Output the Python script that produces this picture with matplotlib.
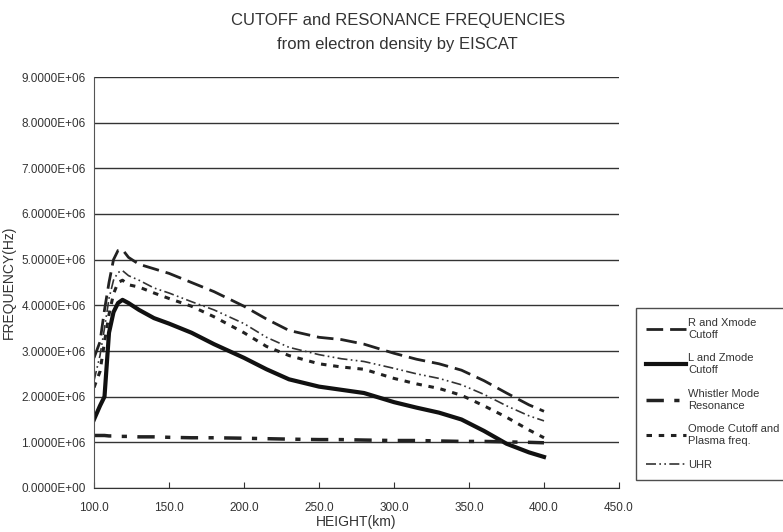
import numpy as np
import matplotlib.pyplot as plt
from matplotlib.ticker import FuncFormatter

plt.rcParams['font.family'] = ['Liberation Sans', 'DejaVu Sans']

# height (km)
height = [100, 104, 107, 110, 113, 116, 119, 123, 130, 140, 150, 165, 180, 200,
          215, 230, 250, 265, 280, 300, 315, 330, 345, 360, 375, 390, 400]

# frequencies (MHz -> Hz below)
r_xmode = [2.85, 3.2, 3.9, 4.5, 5.0, 5.2, 5.22, 5.05, 4.9, 4.8, 4.7, 4.5, 4.3, 3.98,
           3.7, 3.45, 3.3, 3.25, 3.15, 2.95, 2.82, 2.72, 2.58, 2.35, 2.08, 1.82, 1.68]
l_zmode = [1.5, 1.8, 2.0, 3.4, 3.85, 4.05, 4.12, 4.05, 3.9, 3.72, 3.6, 3.4, 3.15, 2.85,
           2.6, 2.38, 2.22, 2.15, 2.08, 1.88, 1.76, 1.65, 1.5, 1.25, 0.97, 0.78, 0.68]
whistler = [1.15, 1.15, 1.15, 1.14, 1.14, 1.13, 1.13, 1.13, 1.12, 1.12, 1.11, 1.1, 1.1, 1.09,
            1.08, 1.07, 1.06, 1.06, 1.05, 1.04, 1.04, 1.03, 1.02, 1.02, 1.01, 1.0, 0.99]
omode = [2.2, 2.55, 3.2, 3.8, 4.25, 4.5, 4.55, 4.45, 4.4, 4.27, 4.15, 3.98, 3.75, 3.4,
         3.1, 2.9, 2.72, 2.65, 2.6, 2.4, 2.28, 2.18, 2.03, 1.8, 1.55, 1.27, 1.1]
uhr = [2.35, 2.9, 3.5, 4.15, 4.55, 4.72, 4.76, 4.65, 4.55, 4.38, 4.27, 4.08, 3.9, 3.6,
       3.3, 3.08, 2.92, 2.83, 2.77, 2.62, 2.5, 2.4, 2.26, 2.05, 1.8, 1.58, 1.47]

labels = ['R and Xmode\nCutoff', 'L and Zmode\nCutoff', 'Whistler Mode\nResonance',
          'Omode Cutoff and\nPlasma freq.', 'UHR']

fig = plt.figure(figsize=(7.83, 5.32), dpi=100)
ax = fig.add_axes([94/783, 1-488/532, (619-94)/783, (488-77)/532])

h = np.array(height)
ax.plot(h, np.array(r_xmode)*1e6, color='#222222', lw=2, dashes=(6, 2.5), label=labels[0])
ax.plot(h, np.array(l_zmode)*1e6, color='#111111', lw=3, label=labels[1])
ax.plot(h, np.array(whistler)*1e6, color='#222222', lw=2.5, dashes=(5, 3, 1.5, 3), label=labels[2])
ax.plot(h, np.array(omode)*1e6, color='#222222', lw=2.2, dashes=(1.8, 2.2), label=labels[3])
ax.plot(h, np.array(uhr)*1e6, color='#333333', lw=1.2, dashes=(6, 2, 1, 2, 1, 2), label=labels[4])

ax.set_xlim(100, 450)
ax.set_ylim(0, 9e6)
ax.set_xticks(np.arange(100, 451, 50))
ax.set_yticks(np.arange(0, 9.1e6, 1e6))
ax.xaxis.set_major_formatter(FuncFormatter(lambda v, p: f'{v:.1f}'))
ax.yaxis.set_major_formatter(FuncFormatter(lambda v, p: f'{v:.4E}'))
ax.grid(axis='y', color='#333333', lw=1)
ax.set_axisbelow(True)
for s in ['top', 'right']:
    ax.spines[s].set_visible(False)
ax.spines['left'].set_color('#555555')
ax.spines['bottom'].set_color('#333333')
ax.tick_params(axis='x', direction='in', length=4, labelsize=8.5, colors='#333333', pad=10)
ax.tick_params(axis='y', length=0, labelsize=8.5, colors='#333333', pad=6)

ax.set_xlabel('HEIGHT(km)', fontsize=10, color='#333333', labelpad=1)
ax.set_ylabel('FREQUENCY(Hz)', fontsize=10, color='#333333', labelpad=4)

fig.text(0.508, 1-20/532, 'CUTOFF and RESONANCE FREQUENCIES', ha='center', va='center',
         fontsize=12, color='#333333')
fig.text(0.508, 1-45/532, 'from electron density by EISCAT', ha='center', va='center',
         fontsize=12, color='#333333')

leg = fig.legend(loc='upper left', bbox_to_anchor=(636/783, 1-308/532), fontsize=8,
                 handlelength=3.6, frameon=True, fancybox=False, borderaxespad=0,
                 labelspacing=1.25, handletextpad=0.2, borderpad=0.9)
leg.get_frame().set_edgecolor('#222222')
leg.get_frame().set_linewidth(1)
for t in leg.get_texts():
    t.set_color('#333333')

fig.savefig('out.png', dpi=100)
